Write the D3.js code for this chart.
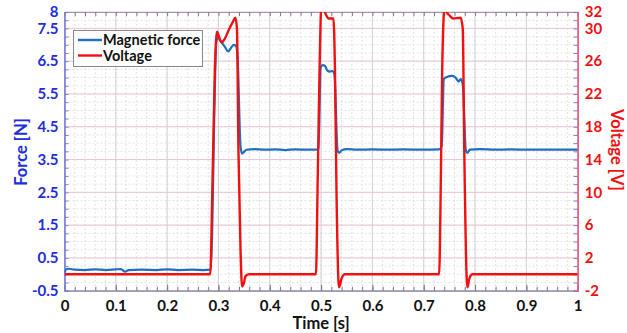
<!DOCTYPE html>
<html><head><meta charset="utf-8">
<script src="https://cdn.jsdelivr.net/npm/d3@7"></script>
<style>body{margin:0;background:#fff}svg{display:block;font-family:Lato,"Open Sans",sans-serif;font-weight:bold}</style>
</head><body><svg id="c" width="627" height="333"></svg>
<script>
// ---- data ----
const forceTime = [0,0.003,0.008,0.02,0.04,0.06,0.08,0.1,0.11,0.118,0.125,0.15,0.18,0.2,0.22,0.25,0.27,0.285,0.288,0.292,0.296,0.299,0.305,0.312,0.319,0.325,0.33,0.334,0.337,0.343,0.346,0.349,0.355,0.37,0.39,0.41,0.43,0.45,0.47,0.49,0.495,0.499,0.503,0.508,0.512,0.517,0.522,0.526,0.532,0.535,0.54,0.55,0.57,0.6,0.63,0.66,0.7,0.73,0.735,0.739,0.745,0.755,0.762,0.768,0.772,0.776,0.782,0.785,0.79,0.81,0.84,0.87,0.9,0.95,1.0];
const forceValue = [0.05,0.15,0.17,0.14,0.13,0.15,0.13,0.15,0.16,0.08,0.13,0.14,0.13,0.15,0.13,0.14,0.13,0.14,1.5,5.0,7.1,7.22,7.1,6.95,6.8,6.92,7.0,6.97,6.7,3.9,3.68,3.72,3.8,3.82,3.8,3.81,3.79,3.81,3.8,3.8,3.82,6.3,6.38,6.35,6.22,6.18,6.2,6.1,3.78,3.7,3.78,3.82,3.8,3.81,3.8,3.81,3.8,3.81,3.9,5.95,6.02,6.05,6.0,5.88,5.95,5.8,3.78,3.7,3.8,3.82,3.8,3.81,3.8,3.8,3.8];
const voltTime = [0,0.284,0.288,0.293,0.297,0.301,0.306,0.312,0.32,0.328,0.333,0.336,0.339,0.343,0.346,0.349,0.353,0.36,0.49,0.493,0.497,0.501,0.505,0.51,0.515,0.524,0.527,0.53,0.535,0.54,0.546,0.73,0.733,0.736,0.741,0.745,0.75,0.757,0.772,0.776,0.779,0.785,0.789,0.795,1.0];
const voltValue = [0,0,10,25,29.6,29.0,28.3,28.7,29.8,30.8,31.3,30,15,3,-1.5,-1.2,-0.2,0,0,10,25,33.5,32.5,31.6,31.2,31.2,25,10,-1.6,-0.5,0,0,10,25,33,32,31.6,31.2,31.3,30,15,-1.6,-0.5,0,0];
const timeTicks = [0,0.1,0.2,0.3,0.4,0.5,0.6,0.7,0.8,0.9,1];
const forceTicks = [-0.5,0.5,1.5,2.5,3.5,4.5,5.5,6.5,7.5,8];
const voltTicks = [-2,2,6,10,14,18,22,26,30,32];
const seriesNames = ["Magnetic force","Voltage"];

// ---- layout ----
const L=64.5, R=577.7, T=12, B=290.7;
const svg=d3.select("#c");
const x=d3.scaleLinear().domain([0,1]).range([L,R]);
const yF=d3.scaleLinear().domain([-0.5,8]).range([B,T]);
const yV=d3.scaleLinear().domain([-2,32]).range([B,T]);
const blue="#1f6fc0", red="#f01010", fBlue="#1d2de0", fRed="#ee1111";
const hy=s=>s.replace("\u2212","-");

// grid minor
const g=svg.append("g");
const xMinor=d3.range(0,1.0001,0.02);
const yMinor=d3.range(-0.5,8.0001,0.25);
g.selectAll(".xm").data(xMinor).join("line").attr("x1",d=>x(d)).attr("x2",d=>x(d)).attr("y1",T).attr("y2",B)
 .attr("stroke","#dcdcdc").attr("stroke-width",0.8).attr("stroke-dasharray","2,2");
g.selectAll(".ym").data(yMinor).join("line").attr("y1",d=>yF(d)).attr("y2",d=>yF(d)).attr("x1",L).attr("x2",R)
 .attr("stroke","#dcdcdc").attr("stroke-width",0.8).attr("stroke-dasharray","2,2");
// grid major
g.selectAll(".xg").data(timeTicks).join("line").attr("x1",d=>x(d)).attr("x2",d=>x(d)).attr("y1",T).attr("y2",B)
 .attr("stroke","#d2d0da").attr("stroke-width",1);
g.selectAll(".yg").data(forceTicks).join("line").attr("y1",d=>yF(d)).attr("y2",d=>yF(d)).attr("x1",L).attr("x2",R)
 .attr("stroke","#eac4d6").attr("stroke-width",1);

// axes
const fmtT=d=>d===0?"0":d===1?"1":d3.format(".1f")(d);
const xAx=svg.append("g").attr("transform",`translate(0,${B})`)
 .call(d3.axisBottom(x).tickValues(timeTicks).tickFormat(fmtT).tickSize(-6).tickPadding(10));
const xMinAx=svg.append("g").attr("transform",`translate(0,${B})`)
 .call(d3.axisBottom(x).tickValues(xMinor).tickFormat("").tickSize(-4));
const xTop=svg.append("g").attr("transform",`translate(0,${T})`)
 .call(d3.axisTop(x).tickValues(xMinor).tickFormat("").tickSize(-4));
[xAx,xMinAx,xTop].forEach(a=>{a.select(".domain").attr("stroke","#9a98b8").attr("stroke-width",1.2);a.selectAll("line").attr("stroke","#7a7890");});
xAx.selectAll("text").attr("fill","#111").style("font-size","15px").style("font-family","Lato").style("font-weight","bold");

const fmtF=d=>d===8?"8":hy(d3.format(".1f")(d));
const yAx=svg.append("g").attr("transform",`translate(${L},0)`)
 .call(d3.axisLeft(yF).tickValues(forceTicks).tickFormat(fmtF).tickSize(0).tickPadding(6));
const yMinAx=svg.append("g").attr("transform",`translate(${L},0)`)
 .call(d3.axisLeft(yF).tickValues(yMinor).tickFormat("").tickSize(-4));
[yAx,yMinAx].forEach(a=>{a.select(".domain").attr("stroke","#7f7fe0").attr("stroke-width",1.2);a.selectAll("line").attr("stroke","#7f7fe0");});
yAx.selectAll("text").attr("fill",fBlue).style("font-size","15px").style("font-family","Lato").style("font-weight","bold");

const yRAx=svg.append("g").attr("transform",`translate(${R},0)`)
 .call(d3.axisRight(yV).tickValues(voltTicks).tickFormat(d=>hy(d3.format("d")(d))).tickSize(0).tickPadding(7));
const yRMin=svg.append("g").attr("transform",`translate(${R},0)`)
 .call(d3.axisRight(yV).tickValues(d3.range(-2,32.001,1)).tickFormat("").tickSize(-4));
[yRAx,yRMin].forEach(a=>{a.select(".domain").attr("stroke","#e85a7a").attr("stroke-width",1.2);a.selectAll("line").attr("stroke","#9a6ad0");});
yRAx.selectAll("text").attr("fill",fRed).style("font-size","15px").style("font-family","Lato").style("font-weight","bold");

// clip
svg.append("clipPath").attr("id","clip").append("rect").attr("x",L).attr("y",T).attr("width",R-L).attr("height",B-T);
const fData=forceTime.map((t,i)=>[t,forceValue[i]]);
const vData=voltTime.map((t,i)=>[t,voltValue[i]]);
const lineF=d3.line().x(d=>x(d[0])).y(d=>yF(d[1])).curve(d3.curveMonotoneX);
const lineV=d3.line().x(d=>x(d[0])).y(d=>yV(d[1])).curve(d3.curveMonotoneX);
const plot=svg.append("g").attr("clip-path","url(#clip)");
plot.append("path").datum(fData).attr("d",lineF).attr("fill","none").attr("stroke",blue).attr("stroke-width",2.2).attr("stroke-linejoin","round");
plot.append("path").datum(vData).attr("d",lineV).attr("fill","none").attr("stroke",red).attr("stroke-width",2.4).attr("stroke-linejoin","round");

// legend
const lg=svg.append("g");
lg.append("rect").attr("x",73.5).attr("y",30.5).attr("width",129).attr("height",36).attr("fill","#fff").attr("stroke","#888").attr("stroke-width",1);
[blue,red].forEach((c,i)=>{
  const yy=40+i*15.5;
  lg.append("line").attr("x1",78).attr("x2",102).attr("y1",yy).attr("y2",yy).attr("stroke",c).attr("stroke-width",2.4);
  lg.append("text").attr("x",103).attr("y",yy+5).text(seriesNames[i]).attr("fill","#111").style("font-size","14.5px");
});

// titles
svg.append("text").attr("x",(L+R)/2).attr("y",329).attr("text-anchor","middle").attr("fill","#111").style("font-size","16.5px").text("Time [s]");
svg.append("text").attr("transform","translate(27,152) rotate(-90)").attr("text-anchor","middle").attr("fill",fBlue).style("font-size","16.5px").text("Force [N]");
svg.append("text").attr("transform","translate(611,150) rotate(90)").attr("text-anchor","middle").attr("fill",fRed).style("font-size","16.5px").text("Voltage [V]");
</script></body></html>
